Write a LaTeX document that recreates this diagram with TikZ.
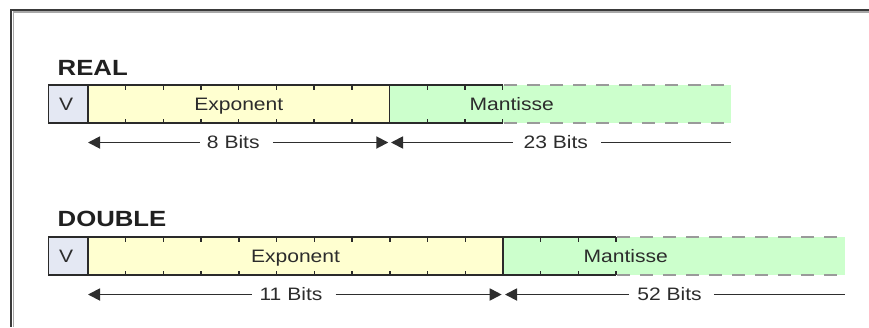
\documentclass[tikz,border=0pt]{standalone}
\usepackage{fontspec}
\setmainfont{Liberation Sans}
\usepackage{graphicx}
\usetikzlibrary{arrows.meta}

\definecolor{framegray}{HTML}{3A3A3A}
\definecolor{frameshade}{HTML}{A8A8A8}
\definecolor{edge}{HTML}{2A2A2A}
\definecolor{signfill}{HTML}{E4E8F3}
\definecolor{expfill}{HTML}{FFFFD0}
\definecolor{manfill}{HTML}{CCFFCC}
\definecolor{dashgray}{HTML}{9A9A9A}
\definecolor{txt}{HTML}{2C2C2C}
\definecolor{titletext}{HTML}{202020}
\definecolor{dimgray}{HTML}{2E2E2E}

% text is set slightly wide
\newcommand\widetext[1]{\scalebox{1.17}[1]{#1}}

\begin{document}
\begin{tikzpicture}[x=1pt,y=-1pt,
  >={Triangle[length=12pt,width=12pt]},
  edgeline/.style={draw=edge, line width=1.4pt},
  cellbox/.style={rectangle, edgeline, minimum height=38pt, inner sep=0pt,
    outer sep=0pt, text=txt, font=\fontsize{18}{18}\selectfont,
    text height=12.9pt, text depth=0pt},
  signcell/.style={cellbox, fill=signfill, minimum width=39.5pt},
  expcell/.style={cellbox, fill=expfill},
  mancell/.style={rectangle, fill=manfill, minimum height=38pt, inner sep=0pt,
    outer sep=0pt},
  bitmark/.style={draw=edge, line width=1.4pt},
  openedge/.style={draw=dashgray, line width=1.8pt, dash pattern=on 13pt off 10pt},
  fieldlabel/.style={inner sep=0pt, text=txt, font=\fontsize{18}{18}\selectfont,
    text height=12.9pt, text depth=0pt},
  typelabel/.style={inner sep=0pt, anchor=base west, text=titletext,
    font=\bfseries\fontsize{22}{22}\selectfont},
  dimline/.style={draw=dimgray, line width=1.8pt},
]
\useasboundingbox (0,0) rectangle (869,327);

% surrounding frame (top and left edges)
\draw[frameshade, line width=1.6pt] (869,12.2) -- (13.4,12.2) -- (13.4,327);
\draw[framegray, line width=2pt] (869,9.8) -- (11.2,9.8) -- (11.2,327);

% ---------------- REAL ----------------
\node[typelabel] (realtitle) at (57.5,75.5) {\widetext{REAL}};

\node[mancell, minimum width=341.5pt] (rm) at (560.25,104) {};
\node[signcell] (rs) at (68.25,104) {\widetext{V}\kern4pt};
\node[expcell, minimum width=301.5pt] (re) at (238.75,104) {\widetext{Exponent}};

\foreach \k in {1,...,7} {
  \draw[bitmark] ([xshift=\k*37.6875pt]re.north west) -- ++(0,4.5);
  \draw[bitmark] ([xshift=\k*37.6875pt]re.south west) -- ++(0,-4.5);
}
\draw[edgeline] (rm.north west) -- ++(113.5,0);
\draw[edgeline] (rm.south west) -- ++(113.5,0);
\foreach \k in {1,2,3} {
  \draw[bitmark] ([xshift=\k*37.7pt]rm.north west) -- ++(0,4.5);
  \draw[bitmark] ([xshift=\k*37.7pt]rm.south west) -- ++(0,-4.5);
}
\draw[openedge] ([xshift=114.5pt]rm.north west) -- (rm.north east);
\draw[openedge] ([xshift=114.5pt]rm.south west) -- (rm.south east);
\node[fieldlabel] (rmtext) at (511.7,104) {\widetext{Mantisse}};

% bit counts
\coordinate (r8a) at (88,142.5);
\coordinate (r8b) at (388.3,142.5);
\coordinate (r23a) at (391,142.5);
\coordinate (r23b) at (731,142.5);
\node[fieldlabel] (r8) at (233.3,142.5) {\widetext{8 Bits}};
\node[fieldlabel] (r23) at (555.8,142.5) {\widetext{23 Bits}};
\draw[dimline, <-, shorten >=7pt] (r8a) -- (r8.west);
\draw[dimline, ->, shorten <=13pt] (r8.east) -- (r8b);
\draw[dimline, <-, shorten >=10pt] (r23a) -- (r23.west);
\draw[dimline, shorten <=13pt] (r23.east) -- (r23b);

% ---------------- DOUBLE ----------------
\node[typelabel] (doubletitle) at (57.5,226.5) {\widetext{DOUBLE}};

\node[mancell, minimum width=342pt] (dm) at (674,256) {};
\node[signcell] (ds) at (68.25,256) {\widetext{V}\kern4pt};
\node[expcell, minimum width=415pt] (de) at (295.5,256) {\widetext{Exponent}};

\foreach \k in {1,...,10} {
  \draw[bitmark] ([xshift=\k*37.727pt]de.north west) -- ++(0,4.5);
  \draw[bitmark] ([xshift=\k*37.727pt]de.south west) -- ++(0,-4.5);
}
\draw[edgeline] (dm.north west) -- ++(113.2,0);
\draw[edgeline] (dm.south west) -- ++(113.2,0);
\foreach \k in {1,2,3} {
  \draw[bitmark] ([xshift=\k*37.7pt]dm.north west) -- ++(0,4.5);
  \draw[bitmark] ([xshift=\k*37.7pt]dm.south west) -- ++(0,-4.5);
}
\draw[openedge] ([xshift=114.2pt]dm.north west) -- (dm.north east);
\draw[openedge] ([xshift=114.2pt]dm.south west) -- (dm.south east);
\node[fieldlabel] (dmtext) at (625.8,256) {\widetext{Mantisse}};

% bit counts
\coordinate (d11a) at (88,294.5);
\coordinate (d11b) at (501.7,294.5);
\coordinate (d52a) at (505,294.5);
\coordinate (d52b) at (845,294.5);
\node[fieldlabel] (d11) at (291,294.5) {\widetext{11 Bits}};
\node[fieldlabel] (d52) at (669.5,294.5) {\widetext{52 Bits}};
\draw[dimline, <-, shorten >=7pt] (d11a) -- (d11.west);
\draw[dimline, ->, shorten <=13pt] (d11.east) -- (d11b);
\draw[dimline, <-, shorten >=8pt] (d52a) -- (d52.west);
\draw[dimline, shorten <=12pt] (d52.east) -- (d52b);
\end{tikzpicture}
\end{document}
